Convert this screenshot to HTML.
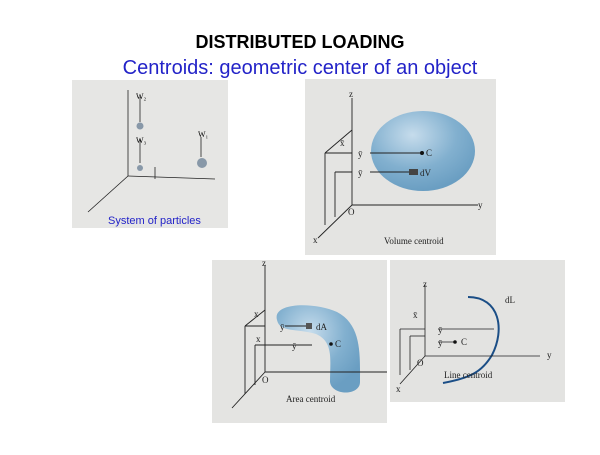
<!DOCTYPE html>
<html><head><meta charset="utf-8"><style>
body{margin:0;background:#fff;width:600px;height:450px;overflow:hidden;font-family:"Liberation Sans",sans-serif}
</style></head><body>
<svg width="600" height="450" viewBox="0 0 600 450" xmlns="http://www.w3.org/2000/svg">
<defs>
<radialGradient id="g" cx="0.4" cy="0.3" r="0.7"><stop offset="0" stop-color="#c6dcec"/><stop offset="0.6" stop-color="#82b0cf"/><stop offset="1" stop-color="#6a9ec2"/></radialGradient>
</defs>
<text x="300" y="48" text-anchor="middle" font-size="18" font-weight="bold" fill="#000">DISTRIBUTED LOADING</text>
<text x="300" y="74" text-anchor="middle" font-size="20" fill="#2323c8">Centroids: geometric center of an object</text>

<!-- Panel 1 -->
<rect x="72" y="80" width="156" height="148" fill="#e6e6e4"/>
<g stroke="#222" stroke-width="0.8" fill="none">
<line x1="128" y1="90" x2="128" y2="176"/><line x1="128" y1="176" x2="215" y2="179"/><line x1="128" y1="176" x2="88" y2="212"/>
<line x1="140" y1="97" x2="140" y2="122"/><line x1="140" y1="139" x2="140" y2="163"/><line x1="201" y1="137" x2="201" y2="157"/>
<line x1="155" y1="167" x2="155" y2="179"/>
</g>
<circle cx="140" cy="126" r="3.5" fill="#8898a8"/><circle cx="140" cy="168" r="3" fill="#8898a8"/><circle cx="202" cy="163" r="5" fill="#8898a8"/>
<text x="136" y="99" font-size="8" font-family="Liberation Serif">W₂</text>
<text x="136" y="143" font-size="8" font-family="Liberation Serif">W₃</text>
<text x="198" y="137" font-size="8" font-family="Liberation Serif">W₁</text>
<text x="108" y="224" font-size="11" fill="#2323c8">System of particles</text>

<!-- Panel 2 -->
<rect x="305" y="79" width="191" height="176" fill="#e4e4e2"/>
<ellipse cx="423" cy="151" rx="52" ry="40" fill="url(#g)"/>
<g stroke="#222" stroke-width="0.9" fill="none">
<line x1="352" y1="98" x2="352" y2="205"/><line x1="352" y1="205" x2="478" y2="205"/><line x1="352" y1="205" x2="318" y2="238"/>
<line x1="325" y1="153" x2="325" y2="225"/><line x1="325" y1="153" x2="352" y2="153"/><line x1="325" y1="153" x2="352" y2="130"/>
<line x1="335" y1="172" x2="335" y2="217"/><line x1="335" y1="172" x2="352" y2="172"/>
<line x1="370" y1="153" x2="422" y2="153"/><line x1="370" y1="172" x2="410" y2="172"/>
</g>
<circle cx="422" cy="153" r="2" fill="#111"/><rect x="409" y="169" width="9" height="6" fill="#444"/>
<g font-family="Liberation Serif" font-size="9" fill="#222">
<text x="349" y="97">z</text><text x="340" y="146">x̄</text><text x="358" y="157">ȳ</text><text x="358" y="176">ȳ</text>
<text x="426" y="156">C</text><text x="420" y="176">dV</text><text x="348" y="215">O</text><text x="478" y="208">y</text><text x="313" y="243">x</text>
<text x="384" y="244">Volume centroid</text></g>

<!-- Panel 3 -->
<rect x="212" y="260" width="175" height="163" fill="#e4e4e2"/>
<path d="M277 320 C272 302 315 302 337 312 C362 325 360 355 360 382 C360 396 332 396 330 382 C330 360 334 342 316 334 C296 328 280 333 277 320 Z" fill="url(#g)"/>
<g stroke="#222" stroke-width="0.9" fill="none">
<line x1="265" y1="265" x2="265" y2="372"/><line x1="265" y1="372" x2="387" y2="372"/><line x1="265" y1="372" x2="232" y2="408"/>
<line x1="245" y1="326" x2="245" y2="394"/><line x1="245" y1="326" x2="265" y2="326"/><line x1="245" y1="326" x2="265" y2="310"/>
<line x1="255" y1="345" x2="255" y2="385"/><line x1="255" y1="345" x2="312" y2="345"/><line x1="285" y1="326" x2="306" y2="326"/>
</g>
<rect x="306" y="323" width="6" height="6" fill="#555"/><circle cx="331" cy="344" r="1.8" fill="#111"/>
<g font-family="Liberation Serif" font-size="9" fill="#222">
<text x="262" y="266">z</text><text x="254" y="317">x</text><text x="280" y="330">ȳ</text><text x="256" y="342">x</text><text x="292" y="349">ȳ</text>
<text x="316" y="330">dA</text><text x="335" y="347">C</text><text x="262" y="383">O</text><text x="286" y="402">Area centroid</text></g>

<!-- Panel 4 -->
<rect x="390" y="260" width="175" height="142" fill="#e3e3e1"/>
<path d="M468 297 C500 297 505 330 492 355 C482 372 470 378 443 383" stroke="#1b4e86" stroke-width="2" fill="none"/>
<g stroke="#222" stroke-width="0.8" fill="none">
<line x1="425" y1="285" x2="425" y2="356"/><line x1="425" y1="356" x2="540" y2="356"/><line x1="425" y1="356" x2="400" y2="384"/>
<line x1="400" y1="329" x2="400" y2="375"/><line x1="400" y1="329" x2="425" y2="329"/>
<line x1="410" y1="336" x2="410" y2="370"/><line x1="410" y1="336" x2="425" y2="336"/>
<line x1="438" y1="329" x2="494" y2="329"/><line x1="438" y1="342" x2="455" y2="342"/>
</g>
<circle cx="455" cy="342" r="1.8" fill="#111"/>
<g font-family="Liberation Serif" font-size="9" fill="#222">
<text x="423" y="287">z</text><text x="413" y="318">x̄</text><text x="438" y="333">ȳ</text><text x="438" y="346">ȳ</text>
<text x="461" y="345">C</text><text x="505" y="303">dL</text><text x="417" y="366">O</text><text x="547" y="358">y</text><text x="396" y="392">x</text>
<text x="444" y="378">Line centroid</text></g>
</svg>
</body></html>
